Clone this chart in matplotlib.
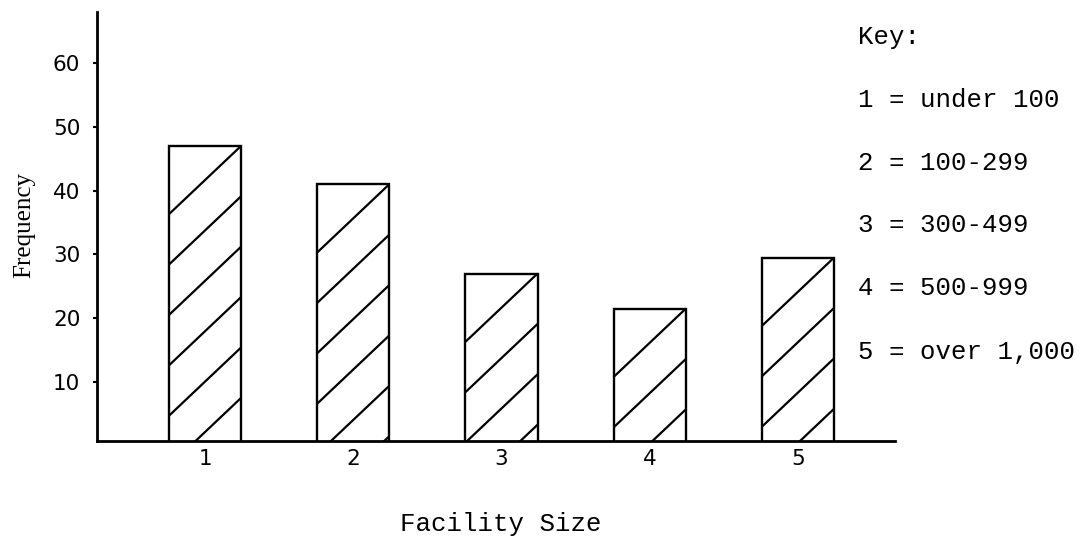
import matplotlib
matplotlib.use("Agg")
import matplotlib.pyplot as plt

# data
sizes = [1, 2, 3, 4, 5]
frequency = [47, 41, 27, 21.5, 29.5]
size_ranges = ["under 100", "100-299", "300-499", "500-999", "over 1,000"]
y_ticks = [10, 20, 30, 40, 50, 60]

plt.rcParams['font.family'] = ['Liberation Mono', 'DejaVu Sans Mono']

fig = plt.figure(figsize=(10.85, 5.37), dpi=100)
W, H = 1085.0, 537.0
ax = fig.add_axes([97 / W, 1 - 441 / H, (895 - 97) / W, (441 - 12) / H])

bars = ax.bar(sizes, frequency, width=0.486, color='white',
              edgecolor='black', linewidth=1.7, zorder=2)

# hand-style diagonal hatching, one line through the top right corner
slope = 22.0
spacing = 7.9
for bar in bars:
    left = bar.get_x()
    right = left + bar.get_width()
    top = bar.get_height()
    k = 0
    while top - k * spacing > 0:
        yr = top - k * spacing
        yl = yr - slope * bar.get_width()
        ax.plot([left, right], [yl, yr], color='black', lw=1.6,
                solid_capstyle='butt', clip_path=bar, zorder=3)
        k += 1

ax.set_xlim(0.2715, 5.654)
ax.set_ylim(0.75, 68.0)
ax.set_xticks(sizes)
ax.set_yticks(y_ticks)
ax.tick_params(axis='x', length=0, pad=6, labelsize=15.5)
ax.tick_params(axis='y', length=3, width=1.5, pad=9, labelsize=15.5,
               direction='out')
for lbl in ax.get_xticklabels() + ax.get_yticklabels():
    lbl.set_family('DejaVu Sans')
for s in ['top', 'right']:
    ax.spines[s].set_visible(False)
for s in ['left', 'bottom']:
    ax.spines[s].set_linewidth(2.0)
    ax.spines[s].set_zorder(4)

fig.text(24 / W, 1 - 225 / H, "Frequency", rotation=90, fontsize=18,
         family='Liberation Serif', ha='center', va='center')
fig.text(501 / W, 1 - 524 / H, "Facility Size", fontsize=18.5,
         ha='center', va='center')

key_y = [100, 163, 225, 288, 352]
fig.text(858 / W, 1 - 37 / H, "Key:", fontsize=18.5, ha='left', va='center')
for s, r, y in zip(sizes, size_ranges, key_y):
    fig.text(858 / W, 1 - y / H, "%d = %s" % (s, r), fontsize=18.5,
             ha='left', va='center')

fig.savefig("out.png", dpi=100)
